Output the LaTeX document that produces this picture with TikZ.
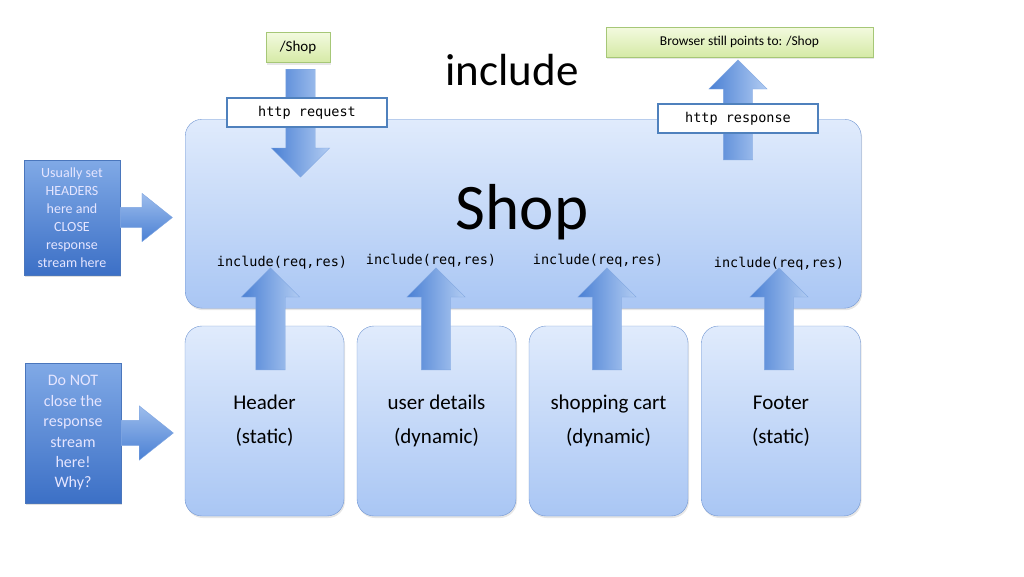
\documentclass[tikz,border=0pt]{standalone}
\usepackage{fontspec}
\setmainfont{Carlito}
\setmonofont{DejaVu Sans Mono}
\usetikzlibrary{shapes.arrows,shadows}

\definecolor{paneltop}{HTML}{E0EBFC}
\definecolor{panelbot}{HTML}{A9C6F4}
\definecolor{panelline}{HTML}{7196D2}
\definecolor{arrowdark}{HTML}{4A80D4}
\definecolor{arrowlight}{HTML}{B2CCF2}
\definecolor{notetop}{HTML}{80A9E6}
\definecolor{notebot}{HTML}{3C70C6}
\definecolor{noteline}{HTML}{4A76BC}
\definecolor{greentop}{HTML}{F3FADF}
\definecolor{greenbot}{HTML}{D5EAA6}
\definecolor{greenline}{HTML}{A6C777}
\definecolor{tagline}{HTML}{4F81BD}

\begin{document}
\begin{tikzpicture}[x=1pt, y=-1pt,
    panel/.style={draw=panelline, rounded corners=17pt, top color=paneltop, bottom color=panelbot,
        drop shadow={opacity=0.2, shadow xshift=1pt, shadow yshift=-2pt}},
    part/.style={panel, minimum width=159pt, minimum height=190pt, align=center,
        font=\fontsize{21}{34}\selectfont},
    note/.style={draw=noteline, top color=notetop, bottom color=notebot, text=white!90!blue,
        align=center, minimum width=96pt, inner sep=2pt,
        drop shadow={opacity=0.25, shadow xshift=1pt, shadow yshift=-2pt}},
    green/.style={draw=greenline, top color=greentop, bottom color=greenbot, minimum height=30pt,
        drop shadow={opacity=0.2, shadow xshift=1pt, shadow yshift=-2pt}},
    tag/.style={draw=tagline, line width=2pt, fill=white, minimum width=160pt, minimum height=29pt,
        font=\ttfamily\fontsize{13.5}{16}\selectfont},
    call/.style={font=\ttfamily\fontsize{13.5}{16}\selectfont},
    bigarrow/.style={single arrow, minimum height=#1, inner xsep=0pt, inner ysep=14.5pt,
        single arrow head extend=14.5pt, single arrow tip angle=90, anchor=tail,
        left color=arrowdark, right color=arrowlight, draw=arrowdark!70!white, line width=0.4pt},
    sidearrow/.style 2 args={single arrow, minimum height=52pt, inner xsep=0pt, inner ysep=#1,
        single arrow head extend=#2, single arrow tip angle=77, anchor=tail,
        top color=arrowlight!80!arrowdark, bottom color=arrowdark, draw=arrowdark!70!white, line width=0.4pt}
]
    \useasboundingbox (0,0) rectangle (1024,576);

    % Main box and included parts
    \node[panel, anchor=north west, minimum width=676pt, minimum height=189pt] (shop) at (185,119) {};
    \node[font=\fontsize{65}{70}\selectfont] (shoptext) at (522,212) {Shop};
    \node[part] (header) at (264.5,421) {Header\\(static)};
    \node[part] (user) at (436.5,421) {user details\\(dynamic)};
    \node[part] (cart) at (608.5,421) {shopping cart\\(dynamic)};
    \node[part] (footer) at (781,421) {Footer\\(static)};

    % Title
    \node[font=\fontsize{45}{50}\selectfont] (title) at (512,70) {include};

    % Request and response
    \node[bigarrow=108pt, rotate=-90] (req) at (300.5,69) {};
    \node[bigarrow=100pt, rotate=90] (res) at (738,160) {};
    \node[green, minimum width=64pt, font=\fontsize{15}{18}\selectfont] (url) at (298,47.5) {/Shop};
    \node[green, minimum width=267pt, font=\fontsize{13.5}{16}\selectfont] (browser) at (739.5,42) {Browser still points to: /Shop};
    \node[tag] (reqtag) at (307,112.5) {http request};
    \node[tag] (restag) at (738,118.5) {http response};

    % Include arrows
    \node[bigarrow=102pt, rotate=90] (up1) at (270.5,370) {};
    \node[bigarrow=102pt, rotate=90] (up2) at (436,370) {};
    \node[bigarrow=102pt, rotate=90] (up3) at (607,370) {};
    \node[bigarrow=102pt, rotate=90] (up4) at (779,370) {};
    \node[call] (inc1) at (282,263) {include(req,res)};
    \node[call] (inc2) at (431,261) {include(req,res)};
    \node[call] (inc3) at (598,261) {include(req,res)};
    \node[call] (inc4) at (779,264) {include(req,res)};

    % Notes
    \node[note, minimum height=115pt, font=\fontsize{14}{18}\selectfont] (setnote) at (72,217.5)
        {Usually set\\HEADERS\\here and\\CLOSE\\response\\stream here};
    \node[note, minimum height=140pt, font=\fontsize{16}{20.4}\selectfont] (closenote) at (73,433)
        {Do NOT\\close the\\response\\stream\\here!\\Why?};
    \node[sidearrow={10pt}{14pt}] (side1) at (setnote.east) {};
    \node[sidearrow={12.5pt}{14.5pt}] (side2) at (closenote.east) {};
\end{tikzpicture}
\end{document}
